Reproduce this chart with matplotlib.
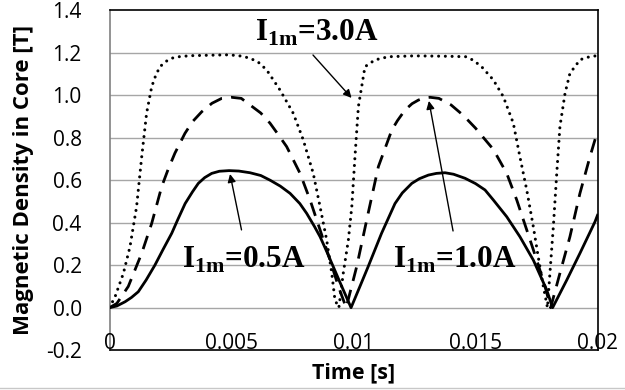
import matplotlib
matplotlib.use("Agg")
import matplotlib.pyplot as plt
from matplotlib.lines import Line2D

# ---------------- data ----------------
t_05 = [0, 0.0003, 0.00064, 0.0009, 0.00118, 0.0015, 0.00186, 0.0022, 0.00255,
        0.0028, 0.0031, 0.0034, 0.00364, 0.0039, 0.00419, 0.0045, 0.0049, 0.0053,
        0.00576, 0.0062, 0.00658, 0.007, 0.0074, 0.0078, 0.00808, 0.0084, 0.00863,
        0.0089, 0.00917, 0.0095, 0.0099,
        0.0103, 0.0106, 0.01115, 0.0117, 0.0120, 0.01239, 0.0127, 0.01307, 0.0134,
        0.01375, 0.0141, 0.01457, 0.0150, 0.01539, 0.01573, 0.01628, 0.01682,
        0.01737, 0.01792, 0.01816, 0.01874, 0.01928, 0.0199, 0.02]
b_05 = [0, 0.008, 0.028, 0.048, 0.075, 0.13, 0.2, 0.275, 0.35,
        0.415, 0.49, 0.545, 0.585, 0.612, 0.632, 0.642, 0.645, 0.643,
        0.635, 0.622, 0.60, 0.572, 0.538, 0.49, 0.444, 0.382, 0.334,
        0.265, 0.193, 0.105, 0.0,
        0.11, 0.193, 0.35, 0.49, 0.54, 0.585, 0.607, 0.624, 0.632,
        0.635, 0.628, 0.609, 0.584, 0.554, 0.507, 0.428, 0.334,
        0.224, 0.083, 0.0, 0.13, 0.256, 0.405, 0.435]

t_10 = [0, 0.0003, 0.00077, 0.00132, 0.00173, 0.00214, 0.0024, 0.00268, 0.00309,
        0.0034, 0.00378, 0.0042, 0.0046, 0.005, 0.0054, 0.00576, 0.0062, 0.00658,
        0.0069, 0.00726, 0.00781, 0.00822, 0.00863, 0.00904, 0.00938, 0.0097,
        0.01013, 0.0106, 0.01102, 0.01157, 0.0118, 0.01211, 0.0124, 0.01266,
        0.0129, 0.01314, 0.0135, 0.0140, 0.0145, 0.0150, 0.0154, 0.01573, 0.01628,
        0.01669, 0.0171, 0.01751, 0.01785, 0.01808, 0.01846, 0.01887, 0.01928,
        0.01969, 0.02]
b_10 = [0, 0.02, 0.1, 0.256, 0.397, 0.57, 0.65, 0.727, 0.82,
        0.875, 0.922, 0.962, 0.985, 0.99, 0.985, 0.954, 0.916, 0.868,
        0.817, 0.758, 0.632, 0.507, 0.366, 0.224, 0.1, 0.0,
        0.193, 0.444, 0.664, 0.836, 0.88, 0.93, 0.96, 0.977,
        0.987, 0.99, 0.985, 0.954, 0.905, 0.845, 0.79, 0.745, 0.632,
        0.507, 0.366, 0.224, 0.1, 0.0, 0.162, 0.334, 0.538,
        0.71, 0.83]

t_30 = [0, 0.00023, 0.00057, 0.00084, 0.00111, 0.00132, 0.00152, 0.00173, 0.0019,
        0.00207, 0.0023, 0.00255, 0.0029, 0.00337, 0.0041, 0.0049, 0.0054, 0.00576,
        0.0061, 0.00644, 0.00699, 0.00753, 0.00794, 0.00835, 0.00863, 0.0089,
        0.00911, 0.00924, 0.0094, 0.00958, 0.00979, 0.00993, 0.01006, 0.0102,
        0.01047, 0.01088, 0.01143, 0.0125, 0.0139, 0.0146, 0.0149, 0.01525,
        0.01573, 0.01614, 0.01655, 0.01682, 0.0171, 0.01737, 0.01757, 0.01778,
        0.01795, 0.01805, 0.01819, 0.01833, 0.01846, 0.01867, 0.01887, 0.01928,
        0.0195, 0.01983, 0.02]
b_30 = [0, 0.052, 0.162, 0.287, 0.475, 0.71, 0.915, 1.04, 1.095,
        1.134, 1.158, 1.174, 1.182, 1.186, 1.188, 1.19, 1.184, 1.174,
        1.155, 1.119, 1.024, 0.915, 0.79, 0.632, 0.475, 0.319,
        0.162, 0.036, 0.0, 0.162, 0.319, 0.475, 0.71, 0.946,
        1.134, 1.166, 1.181, 1.185, 1.183, 1.181, 1.165, 1.134,
        1.072, 0.993, 0.868, 0.71, 0.554, 0.381, 0.24, 0.1,
        0.0, 0.162, 0.381, 0.632, 0.852, 1.009, 1.103, 1.166,
        1.176, 1.184, 1.185]

x_ticks = [0, 0.005, 0.01, 0.015, 0.02]
x_tick_labels = ["0", "0.005", "0.01", "0.015", "0.02"]
y_ticks = [-0.2, 0.0, 0.2, 0.4, 0.6, 0.8, 1.0, 1.2, 1.4]
y_tick_labels = ["-0.2", "0.0", "0.2", "0.4", "0.6", "0.8", "1.0", "1.2", "1.4"]

labels = ["I$_{\\mathrm{1m}}$=3.0A", "I$_{\\mathrm{1m}}$=0.5A", "I$_{\\mathrm{1m}}$=1.0A"]
label_pos = [(0.00596, 1.2565), (0.00297, 0.187), (0.01162, 0.187)]
arrow_from = [(0.00834, 1.189), (0.00541, 0.366), (0.01408, 0.361)]
arrow_to = [(0.00992, 0.987), (0.00494, 0.629), (0.01309, 0.973)]

# ---------------- figure ----------------
plt.rcParams['mathtext.fontset'] = 'custom'
plt.rcParams['mathtext.rm'] = 'Liberation Serif:bold'
plt.rcParams['mathtext.bf'] = 'Liberation Serif:bold'
plt.rcParams['font.family'] = ['Open Sans', 'DejaVu Sans']

fig = plt.figure(figsize=(6.25, 3.9), dpi=100)
ax = fig.add_axes([0.1752, 0.1021, 0.7808, 0.8718])

ax.set_xlim(0, 0.02)
ax.set_ylim(-0.2, 1.4)

for yv in y_ticks[1:-1]:
    ax.axhline(yv, color='#a6a6a6', lw=1.0, zorder=1)

ax.plot(t_30, b_30, color='black', lw=2.2, linestyle=(0, (0.01, 2.2)),
        dash_capstyle='round', zorder=3)
ax.plot(t_10, b_10, color='black', lw=2.0, linestyle=(0, (5.0, 3.3)),
        dash_capstyle='butt', zorder=3)
ax.plot(t_05, b_05, color='black', lw=2.0, zorder=4, solid_joinstyle='round')

ax.set_yticks(y_ticks)
ax.set_yticklabels(y_tick_labels, fontsize=15)
ax.tick_params(axis='y', length=0, pad=20)
ax.set_xticks([])
for xv, lab in zip(x_ticks, x_tick_labels):
    ax.text(xv, -0.168, lab, ha='center', va='center', fontsize=15, zorder=5)

for sp in ['top', 'right', 'bottom']:
    ax.spines[sp].set_color('black')
    ax.spines[sp].set_linewidth(1.2)
ax.spines['left'].set_color('#808080')
ax.spines['left'].set_linewidth(1.2)

ax.set_ylabel("Magnetic Density in Core [T]", fontsize=16, fontweight='bold')
ax.yaxis.set_label_coords(-0.155, 0.5)
ax.set_xlabel("Time [s]", fontsize=15.5, fontweight='bold')
ax.xaxis.set_label_coords(0.5, -0.035)

for lab, pos, a0, a1 in zip(labels, label_pos, arrow_from, arrow_to):
    ax.text(pos[0], pos[1], lab, ha='left', va='baseline', fontsize=22.5,
            family='Liberation Serif', fontweight='bold', zorder=6)
    ax.annotate("", xy=a1, xytext=a0,
                arrowprops=dict(arrowstyle='-|>', color='black', lw=1.0,
                                mutation_scale=12, shrinkA=0, shrinkB=0),
                zorder=6)

fig.add_artist(Line2D([0, 1], [0.004, 0.004], color='#c8c8c8', lw=1.0,
                      transform=fig.transFigure))

fig.savefig("out.png", dpi=100)
